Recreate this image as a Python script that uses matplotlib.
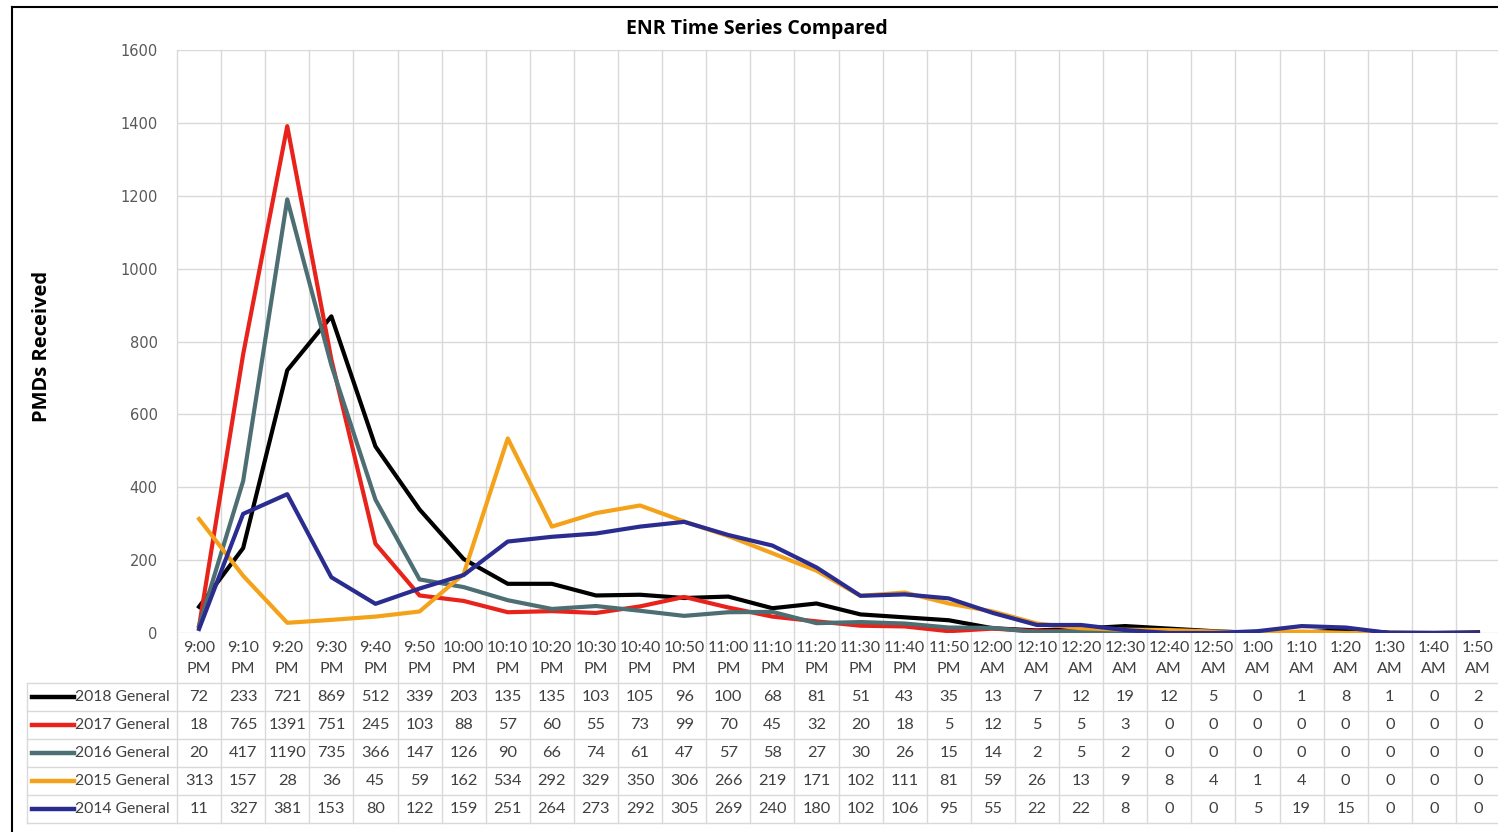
import matplotlib
matplotlib.use("Agg")
import matplotlib.pyplot as plt
from matplotlib.lines import Line2D
import matplotlib.transforms as mtransforms

times = ["9:00 PM", "9:10 PM", "9:20 PM", "9:30 PM", "9:40 PM", "9:50 PM",
         "10:00 PM", "10:10 PM", "10:20 PM", "10:30 PM", "10:40 PM", "10:50 PM",
         "11:00 PM", "11:10 PM", "11:20 PM", "11:30 PM", "11:40 PM", "11:50 PM",
         "12:00 AM", "12:10 AM", "12:20 AM", "12:30 AM", "12:40 AM", "12:50 AM",
         "1:00 AM", "1:10 AM", "1:20 AM", "1:30 AM", "1:40 AM", "1:50 AM"]

series_names = ["2018 General", "2017 General", "2016 General", "2015 General", "2014 General"]

s2018 = [72, 233, 721, 869, 512, 339, 203, 135, 135, 103, 105, 96, 100, 68, 81, 51, 43, 35, 13, 7, 12, 19, 12, 5, 0, 1, 8, 1, 0, 2]
s2017 = [18, 765, 1391, 751, 245, 103, 88, 57, 60, 55, 73, 99, 70, 45, 32, 20, 18, 5, 12, 5, 5, 3, 0, 0, 0, 0, 0, 0, 0, 0]
s2016 = [20, 417, 1190, 735, 366, 147, 126, 90, 66, 74, 61, 47, 57, 58, 27, 30, 26, 15, 14, 2, 5, 2, 0, 0, 0, 0, 0, 0, 0, 0]
s2015 = [313, 157, 28, 36, 45, 59, 162, 534, 292, 329, 350, 306, 266, 219, 171, 102, 111, 81, 59, 26, 13, 9, 8, 4, 1, 4, 0, 0, 0, 0]
s2014 = [11, 327, 381, 153, 80, 122, 159, 251, 264, 273, 292, 305, 269, 240, 180, 102, 106, 95, 55, 22, 22, 8, 0, 0, 5, 19, 15, 0, 0, 0]

series = [s2018, s2017, s2016, s2015, s2014]
colors = ["#000000", "#e8231c", "#4d6e72", "#f5a21b", "#2a2d8f"]

yticks = [0, 200, 400, 600, 800, 1000, 1200, 1400, 1600]

W, H = 1498, 832
fig = plt.figure(figsize=(W / 100, H / 100), dpi=100)

left_px, right_px, top_px, zero_px = 177, 1500, 50, 633
ax = fig.add_axes([left_px / W, (H - zero_px) / H, (right_px - left_px) / W, (zero_px - top_px) / H])
n = len(times)
ax.set_xlim(-0.5, n - 0.5)
ax.set_ylim(0, 1600)
for sp in ax.spines.values():
    sp.set_visible(False)
ax.set_xticks([])
ax.set_yticks(yticks)
ax.set_yticklabels([str(v) for v in yticks], fontsize=10.5, color="#595959", family="DejaVu Sans")
ax.tick_params(axis="y", length=0, pad=14)
grid_c = "#d9d9d9"
for v in yticks:
    ax.axhline(v, color=grid_c, lw=1, zorder=0)

def ypx_to_axes(py):
    return (zero_px - py) / (zero_px - top_px)

blend = mtransforms.blended_transform_factory(ax.transData, ax.transAxes)
table_bottom = 823
for i in range(n + 1):
    ax.plot([i - 0.5, i - 0.5], [ypx_to_axes(table_bottom), 1], transform=blend,
            color=grid_c, lw=1, clip_on=False, zorder=0)

for vals, c in zip(series, colors):
    ax.plot(range(n), vals, color=c, lw=3.0, solid_joinstyle="round", zorder=3)

row_lines = [683, 711, 739, 767, 795, 823]
for py in row_lines:
    fig.add_artist(Line2D([27 / W, 1], [1 - py / H, 1 - py / H], color=grid_c, lw=1))
fig.add_artist(Line2D([27 / W, 27 / W], [1 - 683 / H, 1 - 823 / H], color=grid_c, lw=1))

font_tab = "Lato"
fs_tab = 11.8
for i, t in enumerate(times):
    hh, ap = t.split(" ")
    ax.text(i, ypx_to_axes(648), hh, transform=blend, ha="center", va="center",
            fontsize=11.5, color="#404040", family=font_tab)
    ax.text(i, ypx_to_axes(669), ap, transform=blend, ha="center", va="center",
            fontsize=11.5, color="#404040", family=font_tab)

for r, (name, vals, c) in enumerate(zip(series_names, series, colors)):
    yc = 697 + r * 28
    fig.add_artist(Line2D([32 / W, 74 / W], [1 - yc / H, 1 - yc / H], color=c, lw=3.2))
    fig.text(75 / W, 1 - yc / H, name, ha="left", va="center", fontsize=11.3,
             color="#404040", family=font_tab)
    for i, v in enumerate(vals):
        ax.text(i, ypx_to_axes(yc), str(v), transform=blend, ha="center", va="center",
                fontsize=fs_tab, color="#404040", family=font_tab)

fig.text(757 / W, 1 - 29 / H, "ENR Time Series Compared", ha="center", va="center",
         fontsize=14, fontweight="bold", family="Open Sans")
fig.text(42 / W, 1 - 346 / H, "PMDs Received", ha="center", va="center", rotation=90,
         fontsize=14.5, fontweight="bold", family="Open Sans")

fig.add_artist(Line2D([12 / W, 12 / W], [0, 1 - 7 / H], color="black", lw=1.5))
fig.add_artist(Line2D([12 / W, 1], [1 - 7 / H, 1 - 7 / H], color="black", lw=1.5))

fig.savefig("out.png", dpi=100)
